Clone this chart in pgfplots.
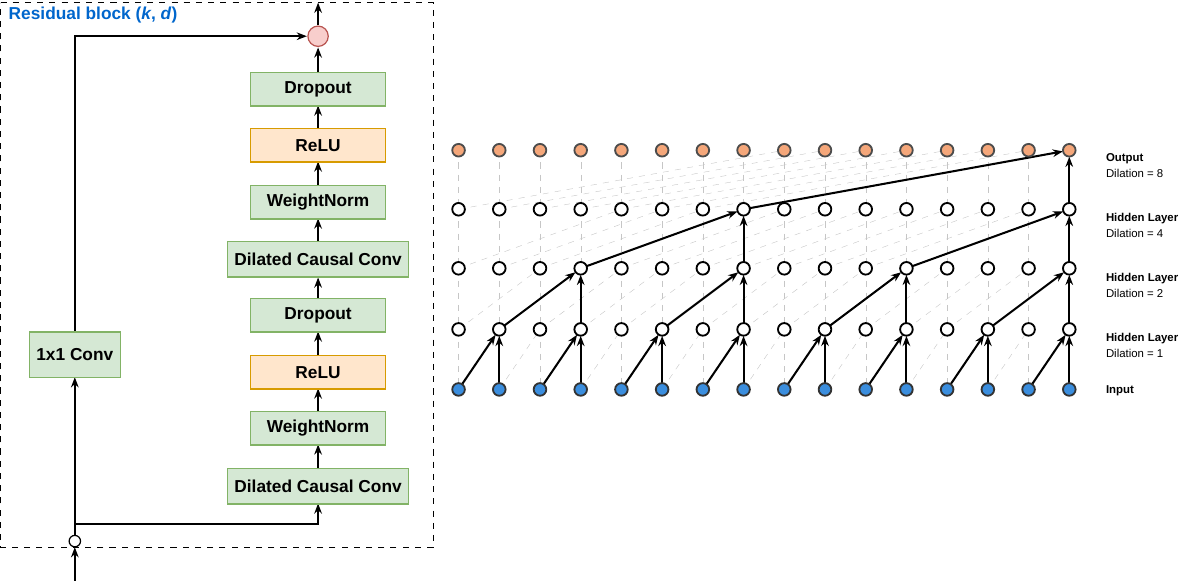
\documentclass[border=0pt]{standalone}
\usepackage{pgfplots}
\pgfplotsset{compat=1.18}
\usetikzlibrary{arrows.meta}
\usepackage{fontspec}
\setmainfont{Liberation Sans}
\definecolor{gfill}{HTML}{D5E8D4}\definecolor{gline}{HTML}{82B366}
\definecolor{ofill}{HTML}{FFE6CC}\definecolor{oline}{HTML}{D79B00}
\definecolor{pfill}{HTML}{F8CECC}\definecolor{pline}{HTML}{B85450}
\definecolor{outc}{HTML}{F5A77A}\definecolor{inc}{HTML}{3B8EDE}
\definecolor{ttl}{HTML}{0066CC}
\tikzset{box/.style={draw=gline,fill=gfill,minimum width=66.5pt,minimum height=16.5pt,font=\bfseries\fontsize{8.5}{10}\selectfont,line width=0.6pt},
  obox/.style={box,draw=oline,fill=ofill}}
\newcommand\fan[3]{%
\pgfplotsforeachungrouped \i in {0,...,15}{%
\pgfmathsetmacro\xa{455+40*\i}%
\pgfmathsetmacro\xb{455+40*(\i-#3)}%
\edef\tmp{\noexpand\addplot[gray!45,dashed,very thin] coordinates {(\xa,#1) (\xa,#2)};}\tmp
\ifnum\i<#3\relax\else\edef\tmp{\noexpand\addplot[gray!45,dashed,very thin] coordinates {(\xb,#2) (\xa,#1)};}\tmp\fi
}}
\begin{document}
\begin{tikzpicture}
\begin{axis}[width=592.5pt,height=293pt,scale only axis,axis lines=none,
  xmin=0,xmax=1185,ymin=0,ymax=586,y dir=reverse,clip=false,
  every axis plot/.append style={line width=0.9pt}]
% left panel frame
\addplot[dashed,black,line width=0.5pt] coordinates {(5,10) (430,10) (430,545) (5,545) (5,10)};
\node[anchor=west,text=ttl,font=\bfseries\fontsize{8.5}{10}\selectfont] at (axis cs:6,22) {Residual block (\textit{k}, \textit{d})};
% arrows in stack
\addplot[-{Stealth[length=5pt]}] coordinates {(317,32) (317,10)};
\addplot[-{Stealth[length=5pt]}] coordinates {(317,78) (317,54)};
\addplot[-{Stealth[length=5pt]}] coordinates {(317,133) (317,111)};
\addplot[-{Stealth[length=5pt]}] coordinates {(317,190) (317,166)};
\addplot[-{Stealth[length=5pt]}] coordinates {(317,245) (317,222)};
\addplot[-{Stealth[length=5pt]}] coordinates {(317,302) (317,280)};
\addplot[-{Stealth[length=5pt]}] coordinates {(317,357) (317,333)};
\addplot[-{Stealth[length=5pt]}] coordinates {(317,412) (317,389)};
\addplot[-{Stealth[length=5pt]}] coordinates {(317,467) (317,444)};
\addplot[-{Stealth[length=5pt]}] coordinates {(78,533) (78,522) (317,522) (317,502)};
\addplot[-{Stealth[length=5pt]}] coordinates {(78,533) (78,378)};
\addplot[-{Stealth[length=5pt]}] coordinates {(78,333) (78,43) (306,43)};
\addplot[-{Stealth[length=5pt]}] coordinates {(78,578) (78,545)};
\addplot[only marks,mark=*,mark size=2.8pt,mark options={fill=white,draw=black,line width=0.6pt}] coordinates {(78,539)};
\addplot[only marks,mark=*,mark size=5pt,mark options={fill=pfill,draw=pline,line width=0.6pt}] coordinates {(317,43)};
\node[font=\bfseries\fontsize{9}{10}\selectfont] at (axis cs:317,43) {+};
\node[box] at (axis cs:317,95) {Dropout};
\node[obox] at (axis cs:317,150) {ReLU};
\node[box] at (axis cs:317,206) {WeightNorm};
\node[box,minimum width=88pt,minimum height=17.5pt] at (axis cs:317,262) {Dilated Causal Conv};
\node[box] at (axis cs:317,317) {Dropout};
\node[obox] at (axis cs:317,373) {ReLU};
\node[box] at (axis cs:317,428) {WeightNorm};
\node[box,minimum width=88pt,minimum height=17.5pt] at (axis cs:317,485) {Dilated Causal Conv};
\node[box,minimum width=44.5pt,minimum height=22.5pt] at (axis cs:78,356) {1x1 Conv};
% right panel dashed fans
\fan{155}{213}{8}
\fan{213}{271}{4}
\fan{271}{331}{2}
\fan{331}{390}{1}
% bold arrows
\pgfplotsset{barr/.style={black,line width=1pt,-{Stealth[length=5pt]},shorten >=3.2pt}}
\addplot[barr] coordinates {(455,390) (495,331)};
\addplot[barr] coordinates {(495,390) (495,331)};
\addplot[barr] coordinates {(535,390) (575,331)};
\addplot[barr] coordinates {(575,390) (575,331)};
\addplot[barr] coordinates {(615,390) (655,331)};
\addplot[barr] coordinates {(655,390) (655,331)};
\addplot[barr] coordinates {(695,390) (735,331)};
\addplot[barr] coordinates {(735,390) (735,331)};
\addplot[barr] coordinates {(775,390) (815,331)};
\addplot[barr] coordinates {(815,390) (815,331)};
\addplot[barr] coordinates {(855,390) (895,331)};
\addplot[barr] coordinates {(895,390) (895,331)};
\addplot[barr] coordinates {(935,390) (975,331)};
\addplot[barr] coordinates {(975,390) (975,331)};
\addplot[barr] coordinates {(1015,390) (1055,331)};
\addplot[barr] coordinates {(1055,390) (1055,331)};
\addplot[barr] coordinates {(495,331) (575,271)};
\addplot[barr] coordinates {(575,331) (575,271)};
\addplot[barr] coordinates {(655,331) (735,271)};
\addplot[barr] coordinates {(735,331) (735,271)};
\addplot[barr] coordinates {(815,331) (895,271)};
\addplot[barr] coordinates {(895,331) (895,271)};
\addplot[barr] coordinates {(975,331) (1055,271)};
\addplot[barr] coordinates {(1055,331) (1055,271)};
\addplot[barr] coordinates {(575,271) (735,213)};
\addplot[barr] coordinates {(735,271) (735,213)};
\addplot[barr] coordinates {(895,271) (1055,213)};
\addplot[barr] coordinates {(1055,271) (1055,213)};
\addplot[barr] coordinates {(735,213) (1055,155)};
\addplot[barr] coordinates {(1055,213) (1055,155)};
% nodes
\pgfplotsset{nd/.style={only marks,mark=*,mark size=3.1pt,mark options={line width=0.5pt}}}
\addplot[nd,mark options={fill=outc,draw=black!70}] coordinates {(455,155)(495,155)(535,155)(575,155)(615,155)(655,155)(695,155)(735,155)(775,155)(815,155)(855,155)(895,155)(935,155)(975,155)(1015,155)(1055,155)};
\addplot[nd,mark options={fill=white,draw=black}] coordinates {(455,213)(495,213)(535,213)(575,213)(615,213)(655,213)(695,213)(735,213)(775,213)(815,213)(855,213)(895,213)(935,213)(975,213)(1015,213)(1055,213)};
\addplot[nd,mark options={fill=white,draw=black}] coordinates {(455,271)(495,271)(535,271)(575,271)(615,271)(655,271)(695,271)(735,271)(775,271)(815,271)(855,271)(895,271)(935,271)(975,271)(1015,271)(1055,271)};
\addplot[nd,mark options={fill=white,draw=black}] coordinates {(455,331)(495,331)(535,331)(575,331)(615,331)(655,331)(695,331)(735,331)(775,331)(815,331)(855,331)(895,331)(935,331)(975,331)(1015,331)(1055,331)};
\addplot[nd,mark options={fill=inc,draw=black!80}] coordinates {(455,390)(495,390)(535,390)(575,390)(615,390)(655,390)(695,390)(735,390)(775,390)(815,390)(855,390)(895,390)(935,390)(975,390)(1015,390)(1055,390)};
% labels
\node[anchor=west,font=\bfseries\fontsize{5.6}{6}\selectfont] at (axis cs:1084,163) {Output};
\node[anchor=west,font=\fontsize{5.6}{6}\selectfont] at (axis cs:1084,178) {Dilation = 8};
\node[anchor=west,font=\bfseries\fontsize{5.6}{6}\selectfont] at (axis cs:1084,222) {Hidden Layer};
\node[anchor=west,font=\fontsize{5.6}{6}\selectfont] at (axis cs:1084,237) {Dilation = 4};
\node[anchor=west,font=\bfseries\fontsize{5.6}{6}\selectfont] at (axis cs:1084,281) {Hidden Layer};
\node[anchor=west,font=\fontsize{5.6}{6}\selectfont] at (axis cs:1084,296) {Dilation = 2};
\node[anchor=west,font=\bfseries\fontsize{5.6}{6}\selectfont] at (axis cs:1084,340) {Hidden Layer};
\node[anchor=west,font=\fontsize{5.6}{6}\selectfont] at (axis cs:1084,355) {Dilation = 1};
\node[anchor=west,font=\bfseries\fontsize{5.6}{6}\selectfont] at (axis cs:1084,391) {Input};
\end{axis}
\end{tikzpicture}
\end{document}
